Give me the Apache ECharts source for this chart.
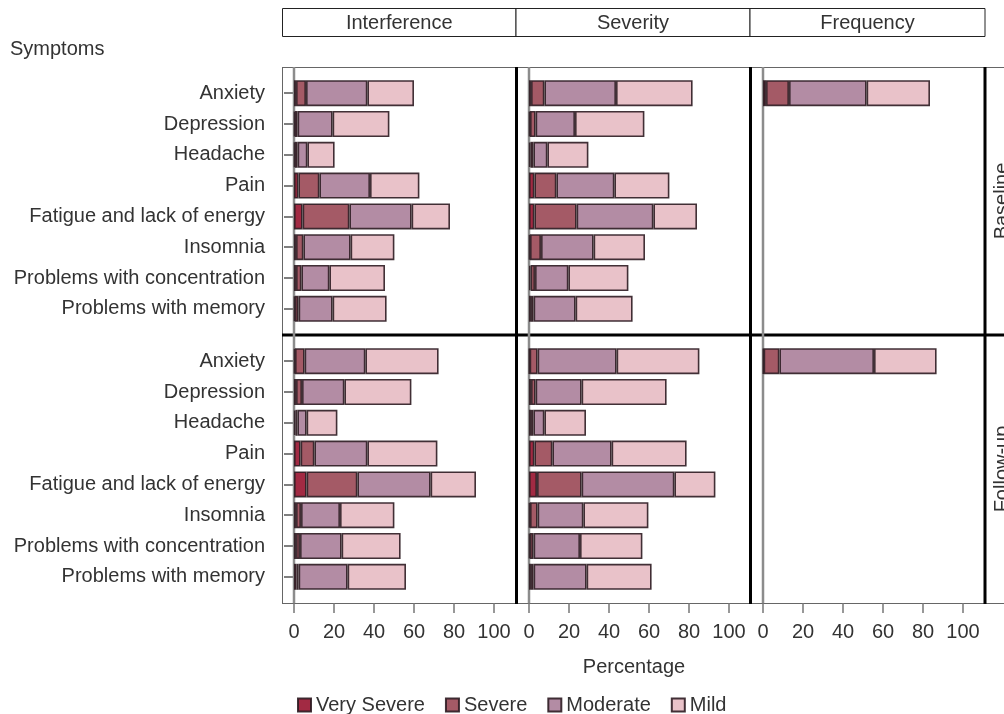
<!DOCTYPE html>
<html>
<head>
<meta charset="utf-8">
<script src="https://cdn.jsdelivr.net/npm/echarts@6/dist/echarts.min.js"></script>
<style>
  html, body { margin: 0; padding: 0; background: #fff; }
  #chart { width: 1004px; height: 714px; }
</style>
</head>
<body>
<div id="chart"></div>
<script>
// Symptom categories (top to bottom) and response levels
const symptoms = [
  'Anxiety', 'Depression', 'Headache', 'Pain',
  'Fatigue and lack of energy', 'Insomnia',
  'Problems with concentration', 'Problems with memory'
];
const levels = ['Very Severe', 'Severe', 'Moderate', 'Mild'];
const measures = ['Interference', 'Severity', 'Frequency'];
const visits = ['Baseline', 'Follow-up'];
const xTicks = [0, 20, 40, 60, 80, 100];

// Percentages, Baseline visit
const interfBaseVerySevere = [1.0, 0.5, 0.5, 2.2, 4.3, 1.0, 1.0, 0.5];
const interfBaseSevere     = [5.0, 1.3, 1.3, 10.5, 23.4, 3.7, 2.7, 1.8];
const interfBaseModerate   = [30.7, 17.5, 4.9, 25.3, 31.1, 23.6, 14.0, 17.0];
const interfBaseMild       = [23.3, 28.4, 13.6, 24.7, 19.2, 21.9, 27.8, 27.0];

const sevBaseVerySevere = [1.0, 0.5, 0.7, 2.7, 2.7, 0.5, 0.8, 1.0];
const sevBaseSevere     = [6.7, 2.8, 1.5, 11.0, 21.1, 5.5, 2.2, 1.3];
const sevBaseModerate   = [35.8, 19.7, 7.0, 29.0, 38.4, 26.3, 16.7, 21.0];
const sevBaseMild       = [38.3, 34.7, 20.5, 27.5, 21.8, 25.7, 30.0, 28.5];

const freqBaseVerySevere = [1.5, null, null, null, null, null, null, null];
const freqBaseSevere     = [11.5, null, null, null, null, null, null, null];
const freqBaseModerate   = [38.8, null, null, null, null, null, null, null];
const freqBaseMild       = [31.7, null, null, null, null, null, null, null];

// Percentages, Follow-up visit
const interfFollowVerySevere = [0.5, 1.0, 0.7, 3.3, 6.3, 1.0, 1.0, 1.3];
const interfFollowSevere     = [4.8, 3.0, 1.0, 6.9, 25.4, 2.5, 2.0, 1.0];
const interfFollowModerate   = [30.4, 21.2, 4.6, 26.5, 36.6, 19.5, 20.8, 24.5];
const interfFollowMild       = [36.6, 33.5, 15.4, 35.0, 22.7, 27.2, 29.5, 29.2];

const sevFollowVerySevere = [0.3, 1.0, 1.0, 2.7, 4.0, 0.5, 0.5, 1.0];
const sevFollowSevere     = [4.0, 2.3, 1.2, 9.0, 22.3, 3.8, 1.8, 1.3];
const sevFollowModerate   = [39.5, 23.0, 5.5, 29.6, 46.4, 22.9, 23.2, 26.5];
const sevFollowMild       = [41.4, 42.5, 20.8, 37.5, 20.5, 32.5, 31.2, 32.5];

const freqFollowVerySevere = [0.3, null, null, null, null, null, null, null];
const freqFollowSevere     = [7.9, null, null, null, null, null, null, null];
const freqFollowModerate   = [47.3, null, null, null, null, null, null, null];
const freqFollowMild       = [31.3, null, null, null, null, null, null, null];

// Panels in row-major order: [visit][measure] -> four level series
const panelData = [
  [interfBaseVerySevere, interfBaseSevere, interfBaseModerate, interfBaseMild],
  [sevBaseVerySevere, sevBaseSevere, sevBaseModerate, sevBaseMild],
  [freqBaseVerySevere, freqBaseSevere, freqBaseModerate, freqBaseMild],
  [interfFollowVerySevere, interfFollowSevere, interfFollowModerate, interfFollowMild],
  [sevFollowVerySevere, sevFollowSevere, sevFollowModerate, sevFollowMild],
  [freqFollowVerySevere, freqFollowSevere, freqFollowModerate, freqFollowMild]
];

const levelColors = ['#a22a43', '#a45a66', '#b38ca4', '#e9c2c9'];
const font = "'Liberation Sans', Arial, sans-serif";
const textColor = '#333';

// Lattice geometry
const colLeft = [282, 517, 751];
const colWidth = 234;
const rowTop = [67, 335];
const rowHeight = 268;
const inset = 10.8;
const xMin = -6, xMax = 111;

const grids = [], xAxes = [], yAxes = [], series = [];

for (let r = 0; r < 2; r++) {
  for (let c = 0; c < 3; c++) {
    const idx = r * 3 + c;
    grids.push({
      left: colLeft[c], width: colWidth,
      top: rowTop[r] + inset, height: rowHeight - 2 * inset,
      containLabel: false, outerBoundsMode: 'none'
    });
    xAxes.push({
      gridIndex: idx, type: 'value', min: xMin, max: xMax,
      show: r === 1,
      offset: inset,
      axisLine: { show: false },
      axisTick: { show: true, length: 10, customValues: xTicks,
                  lineStyle: { color: '#777', width: 1.5 } },
      axisLabel: { customValues: xTicks, fontSize: 20, color: textColor,
                   fontFamily: font, margin: 19 },
      splitLine: { show: false },
      name: (r === 1 && c === 1) ? 'Percentage' : '',
      nameLocation: 'middle', nameGap: 54,
      nameTextStyle: { fontSize: 20, color: textColor, fontFamily: font }
    });
    yAxes.push({
      gridIndex: idx, type: 'category', data: symptoms, inverse: true,
      show: c === 0,
      axisLine: { show: false },
      axisTick: { show: true, alignWithLabel: true, length: 10,
                  lineStyle: { color: '#555', width: 1.5 } },
      axisLabel: { fontSize: 20, color: textColor, fontFamily: font, margin: 17 }
    });
    panelData[idx].forEach((vals, l) => {
      series.push({
        type: 'bar', name: levels[l],
        xAxisIndex: idx, yAxisIndex: idx,
        stack: 'panel' + idx,
        data: vals,
        barWidth: 26,
        z: 3,
        itemStyle: { color: levelColors[l], borderColor: 'rgba(45,28,34,0.9)', borderWidth: 1.6 }
      });
    });
  }
}

// Full-height frame grids carrying the zero reference line of each panel
for (let r = 0; r < 2; r++) {
  for (let c = 0; c < 3; c++) {
    const idx = 6 + r * 3 + c;
    grids.push({ left: colLeft[c], width: colWidth, top: rowTop[r], height: rowHeight,
                 containLabel: false, outerBoundsMode: 'none' });
    xAxes.push({ gridIndex: idx, type: 'value', min: xMin, max: xMax, show: false });
    yAxes.push({ gridIndex: idx, type: 'value', min: 0, max: 1, show: false });
    series.push({
      type: 'line', xAxisIndex: idx, yAxisIndex: idx,
      data: [[0, 0], [0, 1]], symbol: 'none', silent: true, z: 1,
      lineStyle: { color: '#8c8c8c', width: 2.5 }
    });
  }
}

// Panel borders, header strips and row strips
const graphics = [];
const thin = { stroke: '#666', lineWidth: 1 };
const thick = { stroke: '#000', lineWidth: 3 };
graphics.push({ type: 'line', shape: { x1: 282, y1: 67.5, x2: 1004, y2: 67.5 }, style: thin });
graphics.push({ type: 'line', shape: { x1: 282.5, y1: 67, x2: 282.5, y2: 603 }, style: thin });
graphics.push({ type: 'line', shape: { x1: 282, y1: 603.5, x2: 1004, y2: 603.5 }, style: thin });
[516.5, 750.5, 985].forEach(x => {
  graphics.push({ type: 'line', shape: { x1: x, y1: 67, x2: x, y2: 604 }, style: thick });
});
graphics.push({ type: 'line', shape: { x1: 282, y1: 335, x2: 1004, y2: 335 }, style: thick });

const headerEdges = [282.5, 516, 750, 985];
measures.forEach((m, i) => {
  graphics.push({
    type: 'rect',
    shape: { x: headerEdges[i], y: 8.5, width: headerEdges[i + 1] - headerEdges[i], height: 28 },
    style: { fill: '#fff', stroke: '#222', lineWidth: 1 }
  });
  graphics.push({
    type: 'text', x: (headerEdges[i] + headerEdges[i + 1]) / 2, y: 23,
    style: { text: m, fontSize: 20, fontFamily: font, fill: textColor,
             align: 'center', verticalAlign: 'middle' }
  });
});
visits.forEach((v, i) => {
  graphics.push({
    type: 'text', x: 1002, y: rowTop[i] + rowHeight / 2, rotation: Math.PI / 2,
    style: { text: v, fontSize: 20, fontFamily: font, fill: textColor,
             align: 'center', verticalAlign: 'middle' }
  });
});
graphics.push({
  type: 'text', x: 10, y: 49,
  style: { text: 'Symptoms', fontSize: 20, fontFamily: font, fill: textColor,
           align: 'left', verticalAlign: 'middle' }
});

const chart = echarts.init(document.getElementById('chart'), null, { renderer: 'canvas' });
chart.setOption({
  animation: false,
  backgroundColor: '#fff',
  textStyle: { fontFamily: font },
  legend: {
    data: levels,
    left: 297, top: 695,
    padding: 0,
    itemWidth: 13, itemHeight: 13, itemGap: 20,
    icon: 'rect',
    textStyle: { fontSize: 20, color: textColor, fontFamily: font }
  },
  grid: grids,
  xAxis: xAxes,
  yAxis: yAxes,
  series: series,
  graphic: graphics
});
</script>
</body>
</html>
